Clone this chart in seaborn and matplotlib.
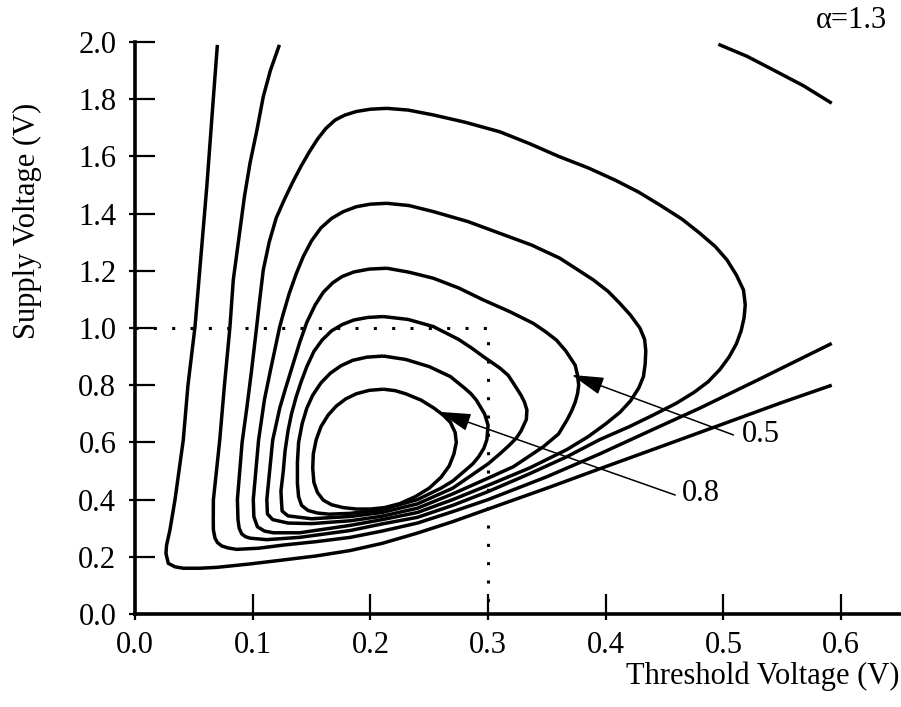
import matplotlib
matplotlib.use("Agg")
import matplotlib.pyplot as plt
import numpy as np
import pandas as pd
import seaborn as sns

# ---------------- data ----------------
x_ticks = [0.0, 0.1, 0.2, 0.3, 0.4, 0.5, 0.6]
x_tick_labels = ["0.0", "0.1", "0.2", "0.3", "0.4", "0.5", "0.6"]
y_ticks = [0.0, 0.2, 0.4, 0.6, 0.8, 1.0, 1.2, 1.4, 1.6, 1.8, 2.0]
y_tick_labels = ["0.0", "0.2", "0.4", "0.6", "0.8", "1.0", "1.2", "1.4", "1.6", "1.8", "2.0"]

# outermost open contour
A_x = [0.070, 0.0665, 0.061, 0.056, 0.051, 0.045, 0.041, 0.034, 0.0297, 0.0268, 0.0263, 0.0283, 0.034, 0.041,
       0.055, 0.0694, 0.0977, 0.126, 0.154, 0.183, 0.21, 0.24, 0.27, 0.30, 0.35, 0.395, 0.45, 0.50, 0.55, 0.592]
A_y = [1.99, 1.80, 1.494, 1.25, 1.005, 0.80, 0.608, 0.40, 0.294, 0.24, 0.212, 0.177, 0.165, 0.16,
       0.16, 0.163, 0.175, 0.189, 0.203, 0.222, 0.247, 0.283, 0.323, 0.367, 0.44, 0.508, 0.59, 0.665, 0.74, 0.80]

# second open contour
B_x = [0.1227, 0.115, 0.109, 0.1035, 0.0977, 0.093, 0.0892, 0.0835, 0.0807, 0.076, 0.072, 0.0666, 0.0665,
       0.0666, 0.068, 0.070, 0.0737, 0.079, 0.0864, 0.105, 0.126, 0.154, 0.183, 0.21, 0.24, 0.27, 0.30,
       0.35, 0.395, 0.44, 0.48, 0.53, 0.592]
B_y = [1.99, 1.90, 1.809, 1.69, 1.576, 1.46, 1.343, 1.168, 1.005, 0.80, 0.608, 0.399, 0.33,
       0.294, 0.265, 0.25, 0.238, 0.231, 0.226, 0.23, 0.241, 0.253, 0.268, 0.29, 0.318, 0.358, 0.40,
       0.48, 0.56, 0.645, 0.72, 0.82, 0.946]

# closed contours, outermost (L1) to innermost (L6)
L1_x = [0.214, 0.200, 0.188, 0.178, 0.170, 0.162, 0.155, 0.148, 0.141, 0.134, 0.127, 0.12, 0.114, 0.109,
        0.106, 0.1034, 0.099, 0.095, 0.091, 0.087, 0.0875, 0.0885, 0.0907, 0.094, 0.098, 0.112, 0.14,
        0.183, 0.21, 0.24, 0.27, 0.30, 0.335, 0.367, 0.395, 0.42, 0.44, 0.46, 0.475, 0.487, 0.497,
        0.505, 0.511, 0.515, 0.5175, 0.5185, 0.518, 0.517, 0.511, 0.503, 0.493, 0.48, 0.465, 0.446,
        0.428, 0.408, 0.385, 0.36, 0.335, 0.31, 0.28, 0.2535, 0.232, 0.214]
L1_y = [1.768, 1.765, 1.757, 1.744, 1.727, 1.697, 1.66, 1.615, 1.565, 1.51, 1.45, 1.385, 1.30, 1.203,
        1.10, 1.005, 0.85, 0.72, 0.60, 0.40, 0.33, 0.30, 0.28, 0.27, 0.265, 0.26, 0.268,
        0.292, 0.315, 0.338, 0.38, 0.428, 0.49, 0.55, 0.61, 0.655, 0.695, 0.737, 0.775, 0.812, 0.855,
        0.90, 0.945, 0.99, 1.035, 1.08, 1.10, 1.133, 1.185, 1.238, 1.285, 1.331, 1.38, 1.43,
        1.475, 1.517, 1.56, 1.60, 1.645, 1.686, 1.72, 1.745, 1.762, 1.768]

L2_x = [0.214, 0.2, 0.188, 0.177, 0.167, 0.158, 0.150, 0.143, 0.137, 0.131, 0.126, 0.123, 0.115, 0.11,
        0.105, 0.1005, 0.101, 0.104, 0.11, 0.1175, 0.14, 0.183, 0.21, 0.24, 0.27, 0.30, 0.335, 0.367,
        0.385, 0.40, 0.412, 0.421, 0.428, 0.432, 0.4335, 0.434, 0.433, 0.429, 0.421, 0.412, 0.402,
        0.3895, 0.361, 0.337, 0.31, 0.283, 0.2535, 0.233, 0.214]
L2_y = [1.436, 1.433, 1.424, 1.407, 1.383, 1.35, 1.305, 1.25, 1.19, 1.12, 1.05, 1.005, 0.85, 0.75,
        0.608, 0.40, 0.34, 0.305, 0.29, 0.284, 0.284, 0.31, 0.33, 0.355, 0.40, 0.45, 0.51, 0.575,
        0.62, 0.665, 0.705, 0.745, 0.79, 0.83, 0.875, 0.92, 0.96, 1.0, 1.045, 1.086, 1.128,
        1.168, 1.244, 1.29, 1.331, 1.372, 1.407, 1.428, 1.436]

L3_x = [0.214, 0.199, 0.186, 0.176, 0.168, 0.16, 0.153, 0.146, 0.14, 0.134, 0.128, 0.123, 0.117, 0.112,
        0.1125, 0.117, 0.13, 0.15, 0.183, 0.21, 0.24, 0.27, 0.30, 0.3215, 0.347, 0.36, 0.367, 0.371,
        0.374, 0.376, 0.377, 0.376, 0.374, 0.366, 0.358, 0.3485, 0.3385, 0.318, 0.296, 0.275, 0.2535,
        0.233, 0.214]
L3_y = [1.209, 1.206, 1.196, 1.18, 1.158, 1.125, 1.08, 1.02, 0.95, 0.87, 0.79, 0.72, 0.608, 0.40,
        0.35, 0.33, 0.318, 0.316, 0.326, 0.342, 0.37, 0.42, 0.475, 0.515, 0.585, 0.63, 0.678, 0.71,
        0.74, 0.77, 0.80, 0.835, 0.87, 0.92, 0.958, 0.988, 1.016, 1.058, 1.098, 1.14, 1.174,
        1.195, 1.209]

L4_x = [0.211, 0.198, 0.186, 0.176, 0.167, 0.159, 0.152, 0.146, 0.141, 0.137, 0.133, 0.130, 0.1275,
        0.126, 0.124, 0.1245, 0.125, 0.13, 0.15, 0.183, 0.21, 0.24, 0.27, 0.30, 0.31, 0.318, 0.324,
        0.328, 0.3325, 0.333, 0.331, 0.328, 0.3215, 0.317, 0.31, 0.296, 0.286, 0.275, 0.2535, 0.232, 0.211]
L4_y = [1.04, 1.037, 1.028, 1.012, 0.99, 0.958, 0.918, 0.865, 0.81, 0.76, 0.70, 0.64, 0.57,
        0.50, 0.43, 0.39, 0.36, 0.343, 0.333, 0.341, 0.355, 0.385, 0.44, 0.525, 0.56, 0.59, 0.615,
        0.64, 0.68, 0.713, 0.74, 0.765, 0.807, 0.835, 0.86, 0.90, 0.93, 0.96, 1.005, 1.03, 1.04]

L5_x = [0.211, 0.197, 0.185, 0.175, 0.166, 0.158, 0.151, 0.146, 0.142, 0.139, 0.138, 0.138, 0.139,
        0.1415, 0.147, 0.155, 0.165, 0.183, 0.21, 0.24, 0.26, 0.27, 0.28, 0.287, 0.292, 0.2965, 0.299,
        0.2995, 0.30, 0.297, 0.29, 0.2855, 0.28, 0.268, 0.25, 0.23, 0.211]
L5_y = [0.902, 0.898, 0.887, 0.868, 0.842, 0.808, 0.765, 0.72, 0.665, 0.60, 0.53, 0.457, 0.41,
        0.38, 0.362, 0.353, 0.349, 0.352, 0.365, 0.40, 0.44, 0.465, 0.50, 0.525, 0.55, 0.58, 0.61,
        0.635, 0.66, 0.70, 0.748, 0.77, 0.79, 0.83, 0.865, 0.89, 0.902]

L6_x = [0.211, 0.199, 0.188, 0.179, 0.171, 0.164, 0.158, 0.154, 0.1515, 0.151, 0.152, 0.155, 0.16,
        0.167, 0.177, 0.188, 0.2, 0.212, 0.225, 0.238, 0.25, 0.26, 0.267, 0.271, 0.273, 0.272, 0.268,
        0.262, 0.254, 0.243, 0.23, 0.221, 0.211]
L6_y = [0.786, 0.782, 0.77, 0.752, 0.727, 0.695, 0.655, 0.61, 0.56, 0.51, 0.46, 0.425, 0.398,
        0.382, 0.372, 0.367, 0.367, 0.372, 0.386, 0.41, 0.44, 0.478, 0.518, 0.56, 0.60, 0.635, 0.67,
        0.695, 0.72, 0.748, 0.77, 0.781, 0.786]

# top-right fragment
T_x = [0.4957, 0.52, 0.5425, 0.568, 0.592]
T_y = [1.992, 1.95, 1.902, 1.847, 1.786]

# dotted guide lines (Vt = 0.3 V, Vdd = 1.0 V)
guide_x = [0.0, 0.3, 0.3]
guide_y = [1.0, 1.0, 0.0]

curves = {"A": (A_x, A_y), "B": (B_x, B_y), "L1": (L1_x, L1_y), "L2": (L2_x, L2_y),
          "L3": (L3_x, L3_y), "L4": (L4_x, L4_y), "L5": (L5_x, L5_y), "L6": (L6_x, L6_y),
          "T": (T_x, T_y)}

rows = []
for name, (xs, ys) in curves.items():
    for i, (xv, yv) in enumerate(zip(xs, ys)):
        rows.append((name, i, xv, yv))
df = pd.DataFrame(rows, columns=["curve", "order", "x", "y"])
guide_df = pd.DataFrame({"x": guide_x, "y": guide_y, "u": ["g"] * 3})

# ---------------- style ----------------
sns.set_theme(style="white")
plt.rcParams["font.family"] = ["Liberation Serif", "DejaVu Serif"]

FS = 22
fig = plt.figure(figsize=(9.01, 7.07), dpi=100)
ax = fig.add_axes([135 / 901, 93 / 707, 765 / 901, 572 / 707])

sns.lineplot(data=df, x="x", y="y", units="curve", estimator=None, sort=False,
             color="black", lw=2.5, ax=ax, legend=False,
             solid_joinstyle="round", solid_capstyle="butt")
sns.lineplot(data=guide_df, x="x", y="y", units="u", estimator=None, sort=False,
             color="black", lw=2.2, ax=ax, legend=False,
             linestyle=(0, (1, 5.0)), dash_capstyle="butt")

ax.set_xlim(0, 0.65)
ax.set_ylim(0, 2.0)
ax.set_xlabel("")
ax.set_ylabel("")

ax.set_xticks(x_ticks)
ax.set_xticklabels(x_tick_labels)
ax.set_yticks(y_ticks)
ax.set_yticklabels(y_tick_labels)
ax.set_xticks(x_ticks, minor=True)
ax.set_yticks(y_ticks, minor=True)
ax.xaxis.remove_overlapping_locs = False
ax.yaxis.remove_overlapping_locs = False

ax.tick_params(which="major", direction="in", length=14.5, width=1.6, color="black",
               labelsize=FS, labelcolor="black", bottom=True, left=True)
ax.tick_params(axis="x", which="major", pad=12)
ax.tick_params(axis="y", which="major", pad=13.5)
ax.tick_params(which="minor", direction="out", length=4, width=1.6, color="black",
               bottom=True, left=True)

for s in ["top", "right"]:
    ax.spines[s].set_visible(False)
for s in ["left", "bottom"]:
    ax.spines[s].set_color("black")
    ax.spines[s].set_linewidth(2.6)

# annotations with arrows
arrow_kw = dict(arrowstyle="-|>,head_length=2.0,head_width=0.55", mutation_scale=10,
                lw=1.1, color="black", shrinkA=0, shrinkB=0)
ax.annotate("", xy=(0.371, 0.836), xytext=(0.5085, 0.626), arrowprops=arrow_kw)
ax.text(0.516, 0.629, "0.5", fontsize=FS, ha="left", va="center", color="black")
ax.annotate("", xy=(0.258, 0.707), xytext=(0.459, 0.416), arrowprops=arrow_kw)
ax.text(0.4646, 0.42, "0.8", fontsize=FS, ha="left", va="center", color="black")

fig.text(899 / 901, 1 - 676 / 707, "Threshold Voltage (V)", fontsize=FS,
         ha="right", va="center", color="black")
fig.text(27 / 901, 1 - 221 / 707, "Supply Voltage (V)", fontsize=FS, rotation=90,
         ha="center", va="center", color="black")
fig.text(887 / 901, 1 - 20 / 707, "α=1.3", fontsize=FS, ha="right", va="center", color="black")

fig.savefig("out.png", dpi=100, facecolor="white")
